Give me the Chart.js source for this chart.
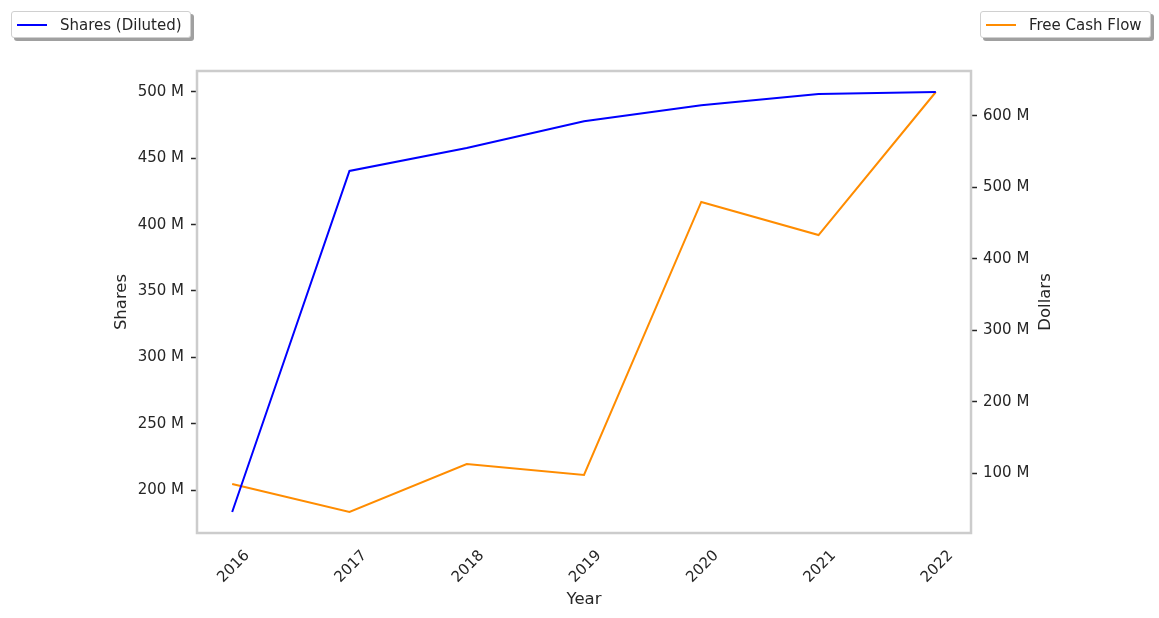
<!DOCTYPE html>
<html>
<head>
<meta charset="utf-8">
<script src="https://cdn.jsdelivr.net/npm/chart.js@4"></script>
<style>
  html, body { margin: 0; padding: 0; background: #fff; }
  #wrap { position: relative; width: 1159px; height: 618px; }
  .legend {
    position: absolute; top: 11px; height: 27px; box-sizing: border-box;
    background: #fff; border: 1px solid #d0d0d0; border-radius: 3px;
    box-shadow: 3px 3px 0 #a0a0a0;
    font-family: "DejaVu Sans", sans-serif; font-size: 15px; color: #262626;
    display: flex; align-items: center; padding: 0 8px 0 5px; white-space: nowrap;
  }
  .legend i { display: inline-block; width: 30px; height: 2px; margin-right: 13px; }
</style>
</head>
<body>
<div id="wrap">
  <canvas id="chart" width="1159" height="618"></canvas>
  <div class="legend" style="left:11px"><i style="background:#0000ff"></i>Shares (Diluted)</div>
  <div class="legend" style="left:980px"><i style="background:#ff8c00"></i>Free Cash Flow</div>
</div>
<script>
const years = [2016, 2017, 2018, 2019, 2020, 2021, 2022];
const sharesDiluted = [183.4e6, 440.5e6, 457.8e6, 478e6, 490e6, 498.5e6, 500e6];
const freeCashFlow = [84.6e6, 45.4e6, 112.6e6, 97.2e6, 479.6e6, 433.3e6, 633.6e6];

const textColor = '#262626';
const fontFamily = '"DejaVu Sans", sans-serif';
const toM = v => (v / 1e6) + ' M';

// spines all round + right axis title reading bottom-to-top
const framePlugin = {
    id: 'frame',
    afterDatasetsDraw(chart) {
        const { ctx, chartArea: a } = chart;
        ctx.save();
        ctx.strokeStyle = '#cccccc';
        ctx.lineWidth = 2.5;
        ctx.strokeRect(a.left, a.top, a.right - a.left, a.bottom - a.top);
        ctx.restore();
    },
    afterDraw(chart) {
        const { ctx, chartArea: a } = chart;
        ctx.save();
        ctx.translate(1046, (a.top + a.bottom) / 2);
        ctx.rotate(-Math.PI / 2);
        ctx.fillStyle = textColor;
        ctx.font = '16.5px ' + fontFamily;
        ctx.textAlign = 'center';
        ctx.textBaseline = 'middle';
        ctx.fillText('Dollars', 0, 0);
        ctx.restore();
    }
};

new Chart(document.getElementById('chart'), {
    type: 'line',
    data: {
        datasets: [
            {
                label: 'Shares (Diluted)', yAxisID: 'y',
                data: years.map((yr, i) => ({ x: yr, y: sharesDiluted[i] })),
                borderColor: '#0000ff', borderWidth: 2, pointRadius: 0, tension: 0
            },
            {
                label: 'Free Cash Flow', yAxisID: 'y1',
                data: years.map((yr, i) => ({ x: yr, y: freeCashFlow[i] })),
                borderColor: '#ff8c00', borderWidth: 2, pointRadius: 0, tension: 0
            }
        ]
    },
    options: {
        responsive: false, animation: false, clip: false,
        layout: { padding: { left: 112, top: 71, right: 104, bottom: 0 } },
        plugins: { legend: { display: false }, tooltip: { enabled: false } },
        scales: {
            x: {
                type: 'linear', min: 2015.7, max: 2022.3,
                afterBuildTicks: s => { s.ticks = years.map(v => ({ value: v })); },
                afterFit: s => { s.height = 85; },
                grid: { display: false }, border: { display: false },
                ticks: {
                    color: textColor, font: { family: fontFamily, size: 15 },
                    maxRotation: 45, minRotation: 45, labelOffset: 15, padding: 6,
                    callback: v => String(v)
                },
                title: { display: true, text: 'Year', color: textColor, font: { family: fontFamily, size: 16.5 }, padding: { top: 0, bottom: 8 } }
            },
            y: {
                position: 'left', min: 167.6e6, max: 515.8e6,
                afterBuildTicks: s => { s.ticks = [200, 250, 300, 350, 400, 450, 500].map(v => ({ value: v * 1e6 })); },
                afterFit: s => { s.width = 85; },
                grid: { drawOnChartArea: false, color: '#262626', tickLength: 6, tickWidth: 1.5 },
                border: { display: false },
                ticks: { color: textColor, font: { family: fontFamily, size: 15 }, padding: 7, callback: toM },
                title: { display: true, text: 'Shares', color: textColor, font: { family: fontFamily, size: 16.5 }, padding: 0 }
            },
            y1: {
                position: 'right', min: 16e6, max: 663e6,
                afterBuildTicks: s => { s.ticks = [100, 200, 300, 400, 500, 600].map(v => ({ value: v * 1e6 })); },
                afterFit: s => { s.width = 84; },
                grid: { drawOnChartArea: false, color: '#262626', tickLength: 6, tickWidth: 1.5 },
                border: { display: false },
                ticks: { color: textColor, font: { family: fontFamily, size: 15 }, padding: 6, callback: toM },
                title: { display: false }
            }
        }
    },
    plugins: [framePlugin]
});
</script>
</body>
</html>
